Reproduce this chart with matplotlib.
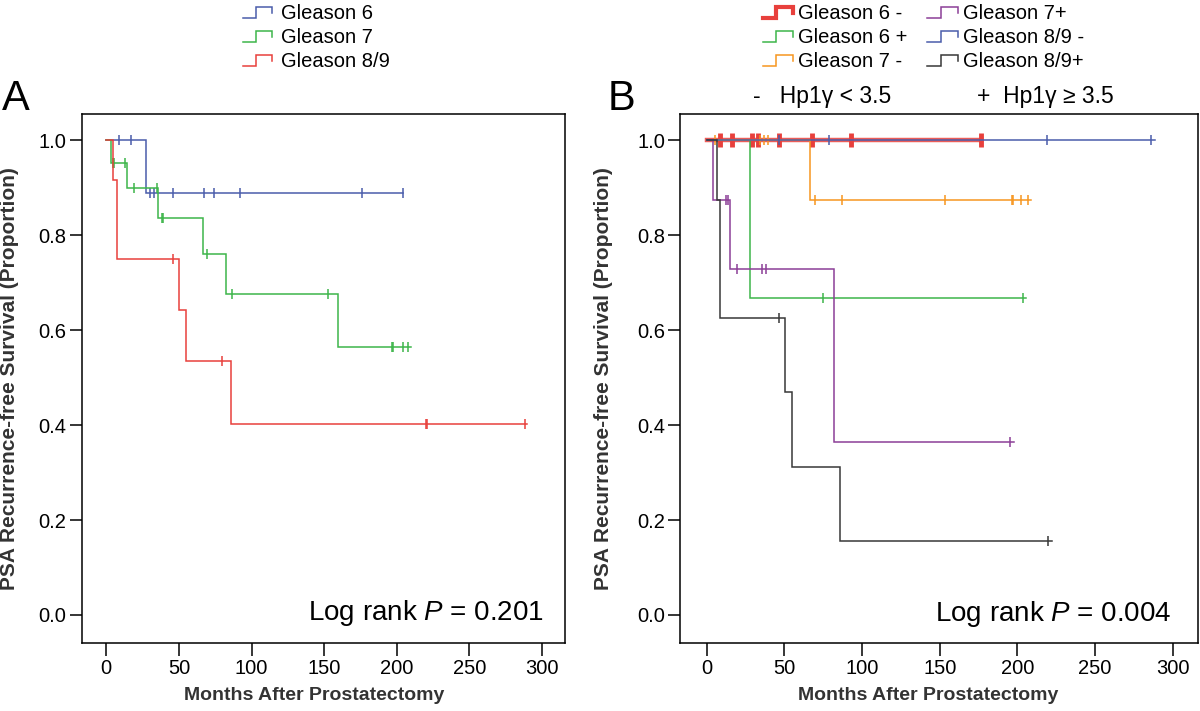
import numpy as np
import matplotlib
matplotlib.use("Agg")
import matplotlib.pyplot as plt
from matplotlib.lines import Line2D
from matplotlib.legend_handler import HandlerBase

plt.rcParams['font.family'] = ['Liberation Sans', 'DejaVu Sans']
plt.rcParams['mathtext.fontset'] = 'custom'
plt.rcParams['mathtext.rm'] = 'Liberation Sans'
plt.rcParams['mathtext.it'] = 'Liberation Sans:italic'

# ---- panel A: Gleason groups (drop times, survival, last follow-up, censor times)
a_g6_t = [0, 27.6]
a_g6_s = [1.0, 0.889]
a_g6_end = 204
a_g6_c = [8.8, 16.8, 30, 32.7, 46, 67.4, 74.5, 92, 176, 204]

a_g7_t = [0, 3.5, 14, 35.7, 66.5, 82.1, 159.3]
a_g7_s = [1.0, 0.952, 0.900, 0.836, 0.760, 0.677, 0.564]
a_g7_end = 210
a_g7_c = [4.4, 5.0, 12.7, 19.3, 35.2, 38.7, 39.3, 69.4, 86.4, 153, 196.5, 197.5, 204, 208]

a_g89_t = [0, 4.9, 7.6, 50.1, 55.1, 86]
a_g89_s = [1.0, 0.917, 0.75, 0.643, 0.536, 0.402]
a_g89_end = 290
a_g89_c = [46, 79.5, 220, 221, 288]

# ---- panel B: Gleason x Hp1y
b_g6m_t = [0]
b_g6m_s = [1.0]
b_g6m_end = 176.6
b_g6m_c = [8.6, 16.5, 29.4, 33.2, 46.5, 67.5, 92.6, 176.3]

b_g6p_t = [0, 27.6]
b_g6p_s = [1.0, 0.667]
b_g6p_end = 205.7
b_g6p_c = [74.6, 203.3]

b_g7m_t = [0, 66.4]
b_g7m_s = [1.0, 0.875]
b_g7m_end = 209
b_g7m_c = [5.1, 34, 36.6, 39.4, 69.6, 86.8, 153.4, 196.2, 197.2, 202.5, 206.5]

b_g7p_t = [0, 4.1, 14.8, 82.1]
b_g7p_s = [1.0, 0.875, 0.729, 0.365]
b_g7p_end = 197.6
b_g7p_c = [12.2, 13.7, 19.7, 35.8, 38.4, 195]

b_g89m_t = [0]
b_g89m_s = [1.0]
b_g89m_end = 288.6
b_g89m_c = [46.5, 78.8, 218.8, 286.3]

b_g89p_t = [0, 6.4, 8.2, 50.6, 54.9, 85.5]
b_g89p_s = [1.0, 0.875, 0.625, 0.469, 0.3125, 0.156]
b_g89p_end = 222
b_g89p_c = [46.5, 220]

blue = '#4a5dab'
green = '#3db54a'
red = '#e8403c'
orange = '#f7961f'
purple = '#8c3f97'
black = '#383838'


def km(ax, t, s, end, cens, color, lw=1.1, ms=7, mew=1.1, alpha=1.0):
    x = list(t) + [end]
    y = list(s) + [s[-1]]
    ax.step(x, y, where='post', color=color, lw=lw, solid_joinstyle='miter', alpha=alpha)
    idx = np.searchsorted(t, cens, side='right') - 1
    cy = np.array(s)[idx]
    ax.plot(cens, cy, ls='none', marker='|', ms=ms, mew=mew, color=color)


class StepHandler(HandlerBase):
    def create_artists(self, legend, orig_handle, xdescent, ydescent,
                       width, height, fontsize, trans):
        xs = np.array([0, 0.45, 0.45, 1.0, 1.0]) * width - xdescent
        ys = np.array([0.05, 0.05, 0.85, 0.85, 0.45]) * height - ydescent
        ln = Line2D(xs, ys, color=orig_handle.get_color(),
                    lw=orig_handle.get_linewidth(), solid_joinstyle='miter')
        ln.set_transform(trans)
        return [ln]


def style(ax):
    ax.set_xlim(-17, 316)
    ax.set_ylim(-0.06, 1.056)
    ax.set_xticks([0, 50, 100, 150, 200, 250, 300])
    ax.set_yticks([0.0, 0.2, 0.4, 0.6, 0.8, 1.0])
    ax.yaxis.set_major_formatter(matplotlib.ticker.FormatStrFormatter('%.1f'))
    ax.tick_params(direction='out', length=9, width=1.1, labelsize=14.5, pad=2)
    for sp in ax.spines.values():
        sp.set_linewidth(1.1)
    ax.set_xlabel('Months After Prostatectomy', fontsize=14, fontweight='bold', color='#333333')
    ax.set_ylabel('PSA Recurrence-free Survival (Proportion)', fontsize=15,
                  fontweight='bold', color='#333333')
    ax.xaxis.set_label_coords(0.48, -0.082)
    ax.yaxis.set_label_coords(-0.13, 0.5)


fig = plt.figure(figsize=(12, 7.11), dpi=100)
axA = fig.add_axes([0.068, 0.095, 0.403, 0.745])
axB = fig.add_axes([0.567, 0.095, 0.431, 0.745])

km(axA, a_g6_t, a_g6_s, a_g6_end, a_g6_c, blue)
km(axA, a_g7_t, a_g7_s, a_g7_end, a_g7_c, green)
km(axA, a_g89_t, a_g89_s, a_g89_end, a_g89_c, red)
style(axA)
axA.text(0.956, 0.045, 'Log rank $P$ = 0.201', transform=axA.transAxes,
         ha='right', va='baseline', fontsize=20)

km(axB, b_g6m_t, b_g6m_s, b_g6m_end, b_g6m_c, red, lw=3.2, ms=10, mew=3.5, alpha=0.85)
km(axB, b_g6p_t, b_g6p_s, b_g6p_end, b_g6p_c, green)
km(axB, b_g7m_t, b_g7m_s, b_g7m_end, b_g7m_c, orange)
km(axB, b_g7p_t, b_g7p_s, b_g7p_end, b_g7p_c, purple)
km(axB, b_g89m_t, b_g89m_s, b_g89m_end, b_g89m_c, blue)
km(axB, b_g89p_t, b_g89p_s, b_g89p_end, b_g89p_c, black)
style(axB)
axB.text(0.95, 0.043, 'Log rank $P$ = 0.004', transform=axB.transAxes,
         ha='right', va='baseline', fontsize=20)

# legends
hm = {Line2D: StepHandler()}
la = [Line2D([], [], color=c, lw=1.1) for c in [blue, green, red]]
fig.legend(la, ['Gleason 6', 'Gleason 7', 'Gleason 8/9'], handler_map=hm,
           loc='upper left', bbox_to_anchor=(0.2025, 1 - 4 / 711), frameon=False,
           fontsize=14.5, handlelength=1.45, handletextpad=0.45,
           labelspacing=0.25, borderpad=0, borderaxespad=0)

lb_labels = ['Gleason 6 -', 'Gleason 6 +', 'Gleason 7 -',
             'Gleason 7+', 'Gleason 8/9 -', 'Gleason 8/9+']
lb = [Line2D([], [], color=red, lw=3), Line2D([], [], color=green, lw=1.1),
      Line2D([], [], color=orange, lw=1.1), Line2D([], [], color=purple, lw=1.1),
      Line2D([], [], color=blue, lw=1.1), Line2D([], [], color=black, lw=1.1)]
fig.legend(lb, lb_labels, handler_map=hm, ncol=2,
           loc='upper left', bbox_to_anchor=(0.6355, 1 - 4 / 711), frameon=False,
           fontsize=14.5, handlelength=1.5, handletextpad=0.25,
           labelspacing=0.25, columnspacing=1.0, borderpad=0, borderaxespad=0)

fig.text(0.002, 1 - 110 / 711, 'A', fontsize=30, va='baseline')
fig.text(0.506, 1 - 110 / 711, 'B', fontsize=30, va='baseline')
fig.text(753 / 1200, 1 - 96 / 711, '-   Hp1\u03b3 < 3.5', fontsize=16.5, va='center')
fig.text(977 / 1200, 1 - 96 / 711, '+  Hp1\u03b3 \u2265 3.5', fontsize=16.5, va='center')

fig.savefig('out.png', dpi=100)
